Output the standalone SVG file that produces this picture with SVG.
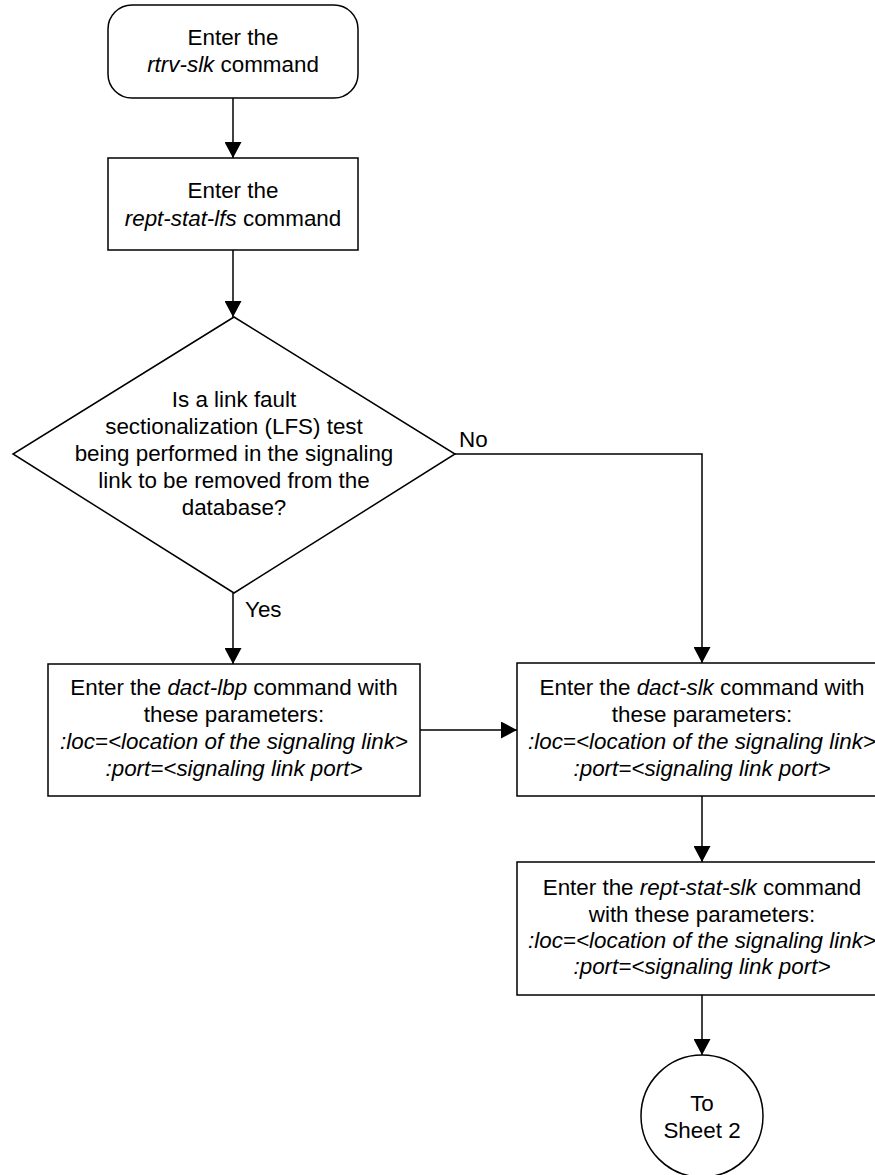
<svg xmlns="http://www.w3.org/2000/svg" width="875" height="1175" viewBox="0 0 875 1175">
<style>
.s{fill:#fff;stroke:#000;stroke-width:1.5}
.c{fill:none;stroke:#000;stroke-width:1.5}
text{font-family:"Liberation Sans",Arial,sans-serif;font-size:22.4px;fill:#000;text-anchor:middle}
.i{font-style:italic}
.l{text-anchor:start}
</style>
<defs>
<marker id="a" viewBox="0 0 16 17" refX="16" refY="8.5" markerWidth="16" markerHeight="17" markerUnits="userSpaceOnUse" orient="auto">
<path d="M0,0 L16,8.5 L0,17 Z" fill="#000"/>
</marker>
</defs>
<rect width="875" height="1175" fill="#fff"/>
<g id="connectors">
<line class="c" x1="233" y1="98" x2="233" y2="158" marker-end="url(#a)"/>
<line class="c" x1="233" y1="250" x2="233" y2="317" marker-end="url(#a)"/>
<polyline class="c" points="455,454 702,454 702,663" marker-end="url(#a)"/>
<line class="c" x1="233" y1="593" x2="233" y2="664" marker-end="url(#a)"/>
<line class="c" x1="420" y1="730" x2="517" y2="730" marker-end="url(#a)"/>
<line class="c" x1="702" y1="796" x2="702" y2="862" marker-end="url(#a)"/>
<line class="c" x1="702" y1="995" x2="702" y2="1055" marker-end="url(#a)"/>
<text class="l" x="459" y="447">No</text>
<text class="l" x="245" y="617">Yes</text>
</g>
<g id="start">
<rect class="s" x="108" y="5" width="250" height="93" rx="24"/>
<text x="233" y="45">Enter the</text>
<text x="233" y="72"><tspan class="i">rtrv-slk</tspan> command</text>
</g>
<g id="lfs">
<rect class="s" x="108" y="158" width="250" height="92"/>
<text x="233" y="198">Enter the</text>
<text x="233" y="226"><tspan class="i">rept-stat-lfs</tspan> command</text>
</g>
<g id="decision">
<polygon class="s" points="234,317 455,454 234,593 13,454"/>
<text x="234" y="407">Is a link fault</text>
<text x="234" y="434">sectionalization (LFS) test</text>
<text x="234" y="461">being performed in the signaling</text>
<text x="234" y="488">link to be removed from the</text>
<text x="234" y="515">database?</text>
</g>
<g id="dactlbp">
<rect class="s" x="48" y="664" width="372" height="132"/>
<text x="234" y="695">Enter the <tspan class="i">dact-lbp</tspan> command with</text>
<text x="234" y="722">these parameters:</text>
<text x="234" y="749" class="i">:loc=&lt;location of the signaling link&gt;</text>
<text x="234" y="776" class="i">:port=&lt;signaling link port&gt;</text>
</g>
<g id="dactslk">
<rect class="s" x="517" y="663" width="370" height="133"/>
<text x="702" y="695">Enter the <tspan class="i">dact-slk</tspan> command with</text>
<text x="702" y="722">these parameters:</text>
<text x="702" y="749" class="i">:loc=&lt;location of the signaling link&gt;</text>
<text x="702" y="776" class="i">:port=&lt;signaling link port&gt;</text>
</g>
<g id="reptstatslk">
<rect class="s" x="517" y="862" width="370" height="133"/>
<text x="702" y="895">Enter the <tspan class="i">rept-stat-slk</tspan> command</text>
<text x="702" y="922">with these parameters:</text>
<text x="702" y="948" class="i">:loc=&lt;location of the signaling link&gt;</text>
<text x="702" y="974" class="i">:port=&lt;signaling link port&gt;</text>
</g>
<g id="sheet2">
<circle class="s" cx="702" cy="1116" r="61"/>
<text x="702" y="1111">To</text>
<text x="702" y="1138">Sheet 2</text>
</g>
</svg>
